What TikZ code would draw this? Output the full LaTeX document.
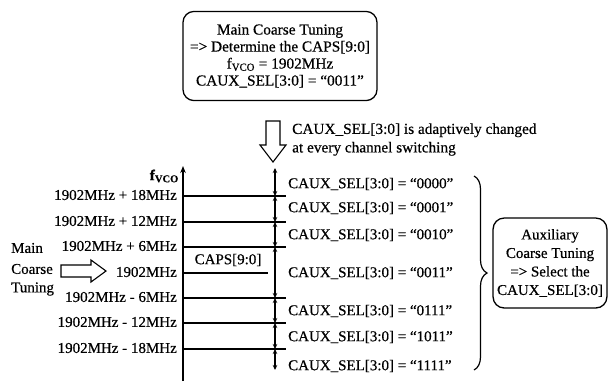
\documentclass[tikz,border=0pt]{standalone}
\usepackage{fontspec}
\setmainfont{Liberation Serif}[FakeBold=0.5]
\usetikzlibrary{arrows.meta,decorations.pathreplacing}
\begin{document}
\begin{tikzpicture}[x=1pt,y=-1pt,
  every node/.style={font=\fontsize{15}{18}\selectfont, inner sep=0pt},
  box/.style={draw, line width=1.3pt, rounded corners=11pt, align=center},
  hollow/.style={draw, line width=1.1pt, fill=white},
  hline/.style={line width=1.5pt},
  axisline/.style={line width=1.5pt, -{Stealth[length=7pt,width=5.5pt]}},
  dimline/.style={line width=1.3pt, {Stealth[length=5pt,width=4.5pt]}-{Stealth[length=5pt,width=4.5pt]}},
  freq/.style={anchor=east},
  sel/.style={anchor=west}]
\useasboundingbox (0,0) rectangle (611,381);

% top box
\node[box, inner xsep=7pt, inner ysep=13pt, font=\fontsize{15.3}{17}\selectfont] (main) at (280,56) {Main Coarse Tuning\\=> Determine the CAPS[9:0]\\f\textsubscript{VCO} = 1902MHz\\CAUX\_SEL[3:0] = “0011”};

% hollow down arrow
\draw[hollow] (266,121) -- (280,121) -- (280,145) -- (286,145) -- (273,162) -- (260,145) -- (266,145) -- cycle;
\node[anchor=west, align=left, font=\fontsize{15.3}{18.5}\selectfont] (adapt) at (292,139.5) {CAUX\_SEL[3:0] is adaptively changed\\at every channel switching};

% frequency axis
\coordinate (ax0) at (183,381);
\coordinate (ax1) at (183,166);
\draw[axisline] (ax0) -- (ax1);
\node[anchor=east] (fvco) at (179,176) {\textbf{f}\textsubscript{\textbf{VCO}}};

% horizontal levels
\foreach \y/\n in {196/a,222/b,247/c,298/e,323/f,349/g}{
  \coordinate (l\n) at (183,\y);
  \coordinate (r\n) at (286,\y);
  \draw[hline] (l\n) -- (r\n);
}
\coordinate (ld) at (183,273);
\coordinate (rd) at (268,273);
\draw[line width=2pt] (ld) -- (rd);
\node (caps) at (228,260) {CAPS[9:0]};

% frequency labels
\node[freq] (f1) at (177,195) {1902MHz + 18MHz};
\node[freq] (f2) at (177,221) {1902MHz + 12MHz};
\node[freq] (f3) at (177,246) {1902MHz + 6MHz};
\node[freq] (f4) at (177,272) {1902MHz};
\node[freq] (f5) at (177,297) {1902MHz - 6MHz};
\node[freq] (f6) at (177,322) {1902MHz - 12MHz};
\node[freq] (f7) at (177,348) {1902MHz - 18MHz};

% main coarse tuning
\node[anchor=west] (m1) at (11,248) {Main};
\node[anchor=west] (m2) at (11,269) {Coarse};
\node[anchor=west] (m3) at (11,289) {Tuning};
\draw[hollow] (61,265) -- (91,265) -- (91,260) -- (106,271) -- (91,282) -- (91,277) -- (61,277) -- cycle;

% right dimension arrows
\coordinate (d0) at (275,168);
\coordinate (d1) at (275,196);
\coordinate (d2) at (275,222);
\coordinate (d3) at (275,247);
\coordinate (d4) at (275,298);
\coordinate (d5) at (275,323);
\coordinate (d6) at (275,349);
\coordinate (d7) at (275,370);
\draw[dimline] (d0) -- (d1);
\draw[dimline] (d1) -- (d2);
\draw[dimline] (d2) -- (d3);
\draw[dimline] (d3) -- (d4);
\draw[dimline] (d4) -- (d5);
\draw[dimline] (d5) -- (d6);
\draw[dimline] (d6) -- (d7);

% selection labels
\node[sel] (s1) at (288,184) {CAUX\_SEL[3:0] = “0000”};
\node[sel] (s2) at (288,208) {CAUX\_SEL[3:0] = “0001”};
\node[sel] (s3) at (288,235) {CAUX\_SEL[3:0] = “0010”};
\node[sel] (s4) at (288,273) {CAUX\_SEL[3:0] = “0011”};
\node[sel] (s5) at (288,311) {CAUX\_SEL[3:0] = “0111”};
\node[sel] (s6) at (288,337) {CAUX\_SEL[3:0] = “1011”};
\node[sel] (s7) at (288,366) {CAUX\_SEL[3:0] = “1111”};

% brace
\coordinate (b0) at (474,176);
\coordinate (b1) at (474,370);
\draw[line width=1.2pt, decorate, decoration={brace, amplitude=13pt}] (b0) -- (b1);

% auxiliary box
\node[box, inner xsep=4pt, inner ysep=11pt, font=\fontsize{15}{18.5}\selectfont] (aux) at (550,263) {Auxiliary\\Coarse Tuning\\=> Select the\\CAUX\_SEL[3:0]};
\end{tikzpicture}
\end{document}
